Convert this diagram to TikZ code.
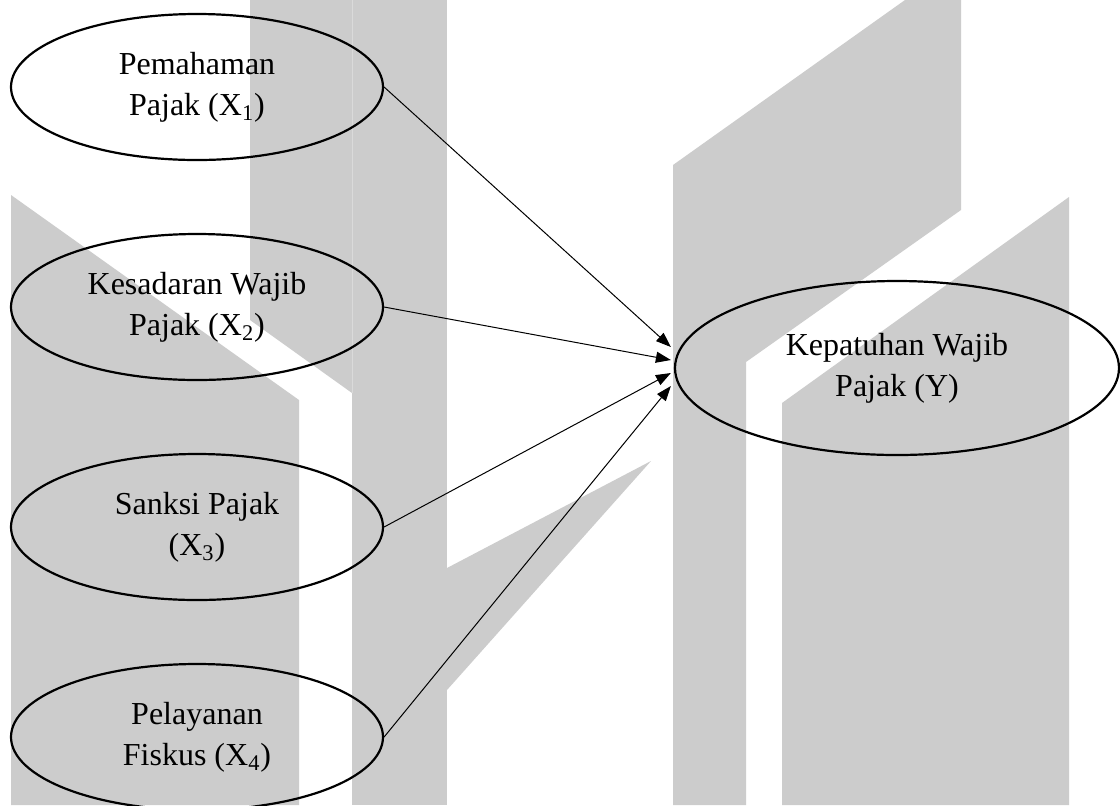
\documentclass[tikz,border=0pt]{standalone}
\usepackage{fontspec}
\setmainfont{Liberation Serif}
\usetikzlibrary{shapes.geometric,arrows.meta,calc}
\definecolor{wmgray}{HTML}{CCCCCC}
\definecolor{wmline}{HTML}{DADADA}
\begin{document}
\begin{tikzpicture}[x=0.5pt,y=-0.5pt,
  wm/.style={fill=wmgray,draw=none},
  var/.style={ellipse,draw,line width=1.1pt,minimum width=186pt,minimum height=73pt,inner sep=0pt,align=center,font=\fontsize{16}{20.5}\selectfont},
  depvar/.style={var,minimum width=222pt,minimum height=87pt},
  conn/.style={line width=0.5pt,-{Triangle[length=7.5pt,width=5.5pt]}}]
\fill[white] (0,0) rectangle (1120,805);
\useasboundingbox (0,0) rectangle (1120,805);
\clip (0,0) rectangle (1120,805);
% watermark
\fill[wm] (11,195) -- (299,400) -- (299,805) -- (11,805) -- cycle;
\fill[wm] (250,0) -- (352,0) -- (352,393) -- (250,320) -- cycle;
\fill[wm] (352,0) -- (447,0) -- (447,805) -- (352,805) -- cycle;
\draw[wmline,line width=0.4pt] (352,0) -- (352,393);
\fill[wm] (447,568) -- (651,461) -- (447,690) -- cycle;
\fill[wm] (673,165) -- (905,0) -- (961,0) -- (961,210) -- (746,362) -- (746,805) -- (673,805) -- cycle;
\fill[wm] (782,403) -- (1069,197) -- (1069,805) -- (782,805) -- cycle;
% nodes
\node[var] (x1) at (197,87) {Pemahaman\\Pajak (X\textsubscript{1})};
\node[var] (x2) at (197,307) {Kesadaran Wajib\\Pajak (X\textsubscript{2})};
\node[var] (x3) at (197,527) {Sanksi Pajak\\(X\textsubscript{3})};
\node[var] (x4) at (197,737) {Pelayanan\\Fiskus (X\textsubscript{4})};
\node[depvar] (dep) at (897,368) {Kepatuhan Wajib\\Pajak (Y)};
% arrow tips
\coordinate (t1) at ($(dep.west)+(-3,-21)$);
\coordinate (t2) at ($(dep.west)+(-3,-8)$);
\coordinate (t3) at ($(dep.west)+(-3,5)$);
\coordinate (t4) at ($(dep.west)+(-3,18)$);
\draw[conn] (x1.east) -- (t1);
\draw[conn] (x2.east) -- (t2);
\draw[conn] (x3.east) -- (t3);
\draw[conn] (x4.east) -- (t4);
\end{tikzpicture}
\end{document}
